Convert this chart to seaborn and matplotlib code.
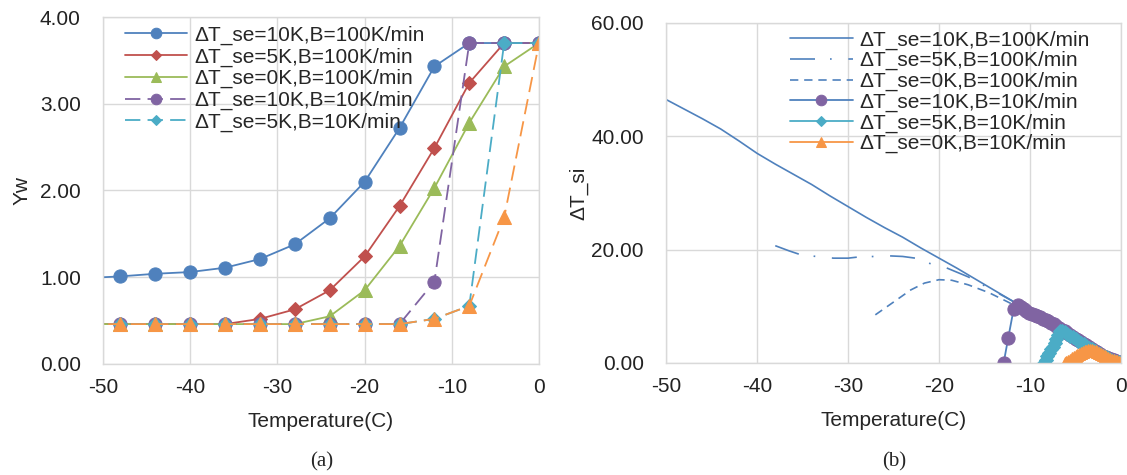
import numpy as np
import pandas as pd
import seaborn as sns
import matplotlib.pyplot as plt

# ---------------- (a) Yw vs temperature ----------------
temp_a = [-52, -48, -44, -40, -36, -32, -28, -24, -20, -16, -12, -8, -4, 0]
yw_10k_100 = [0.99, 1.01, 1.04, 1.06, 1.11, 1.21, 1.38, 1.68, 2.10, 2.72, 3.43, 3.70, 3.70, 3.70]
yw_5k_100 = [0.46, 0.46, 0.46, 0.46, 0.46, 0.52, 0.63, 0.85, 1.24, 1.82, 2.49, 3.24, 3.70, 3.70]
yw_0k_100 = [0.46, 0.46, 0.46, 0.46, 0.46, 0.46, 0.46, 0.55, 0.85, 1.36, 2.03, 2.78, 3.43, 3.70]
yw_10k_10 = [0.46, 0.46, 0.46, 0.46, 0.46, 0.46, 0.46, 0.46, 0.46, 0.46, 0.95, 3.70, 3.70, 3.70]
yw_5k_10 = [0.46, 0.46, 0.46, 0.46, 0.46, 0.46, 0.46, 0.46, 0.46, 0.46, 0.52, 0.67, 3.70, 3.70]
yw_0k_10 = [0.46, 0.46, 0.46, 0.46, 0.46, 0.46, 0.46, 0.46, 0.46, 0.46, 0.52, 0.67, 1.69, 3.70]

# ---------------- (b) dT_si vs temperature ----------------
temp_b_solid = [-50, -48, -46, -44, -42, -40, -38, -36, -34, -32, -30, -28, -26,
                -24, -22, -20, -18, -16, -14, -12, -10, -8, -6, -4, -2, 0]
dtsi_10k_100 = [46.5, 44.8, 43.1, 41.3, 39.2, 37.0, 35.1, 33.3, 31.5, 29.5, 27.6, 25.7, 23.9,
                22.2, 20.3, 18.5, 16.7, 14.8, 12.9, 11.0, 8.7, 7.0, 5.1, 3.0, 1.1, 0.1]

temp_b_dashdot = [-38, -36.5, -35.2, -33.5, -31.6, -30, -28.9, -27.1, -25.4, -24, -22.6,
                  -20.9, -19.2, -16.8, -13.6, -12, -10, -8, -6, -4, -2, 0]
dtsi_5k_100 = [20.7, 19.8, 19.1, 18.8, 18.5, 18.5, 18.7, 18.8, 18.9, 18.8, 18.5,
               17.5, 16.8, 15.2, 12.4, 11.0, 9.0, 7.0, 5.0, 3.0, 1.2, 0.1]

temp_b_dashed = [-27, -25.4, -23.1, -21.6, -20, -18.6, -16.8, -14.5, -12.6, -10, -8, -6, -4, -2, 0]
dtsi_0k_100 = [8.5, 10.3, 12.9, 14.1, 14.7, 14.6, 13.8, 12.4, 10.9, 8.8, 7.0, 5.0, 3.0, 1.2, 0.1]

temp_b_10k_10 = [-12.9, -12.4, -11.8, -11.3, -11.0, -10.7, -10.4, -10.1, -9.8, -9.5, -9.2,
                 -8.9, -8.6, -8.3, -8.0, -7.7, -7.4, -7.1, -6.8, -6.5, -6.2, -5.9, -5.6,
                 -5.3, -5.0, -4.7, -4.4, -4.1, -3.8, -3.5, -3.2, -2.9, -2.6, -2.3, -2.0,
                 -1.7, -1.4, -1.1, -0.8, -0.5, -0.2, 0.0]
dtsi_10k_10 = [0.0, 4.4, 9.5, 10.3, 9.9, 9.5, 9.1, 8.8, 8.6, 8.4, 8.3,
               8.1, 7.8, 7.6, 7.4, 7.1, 6.8, 6.5, 6.2, 5.9, 5.6, 5.3, 5.0,
               4.6, 4.3, 4.0, 3.7, 3.4, 3.1, 2.8, 2.5, 2.2, 1.9, 1.6, 1.3,
               1.1, 0.9, 0.7, 0.5, 0.3, 0.2, 0.1]

temp_b_5k_10 = [-8.5, -8.3, -8.1, -7.9, -7.7, -7.5, -7.3, -7.1, -6.9, -6.7, -6.5, -6.2,
                -5.9, -5.6, -5.3, -5.0, -4.7, -4.4, -4.1, -3.8, -3.5, -3.2, -2.9, -2.6,
                -2.3, -2.0, -1.7, -1.4, -1.1, -0.8, -0.5, -0.2, 0.0]
dtsi_5k_10 = [0.0, 0.6, 1.2, 1.8, 2.4, 2.9, 3.6, 4.3, 5.0, 5.6, 5.7, 5.4,
              5.1, 4.8, 4.5, 4.2, 3.9, 3.6, 3.3, 3.0, 2.7, 2.4, 2.1, 1.8,
              1.5, 1.2, 1.0, 0.8, 0.6, 0.4, 0.2, 0.1, 0.0]

temp_b_0k_10 = [-6.2, -6.0, -5.8, -5.6, -5.4, -5.2, -5.0, -4.8, -4.6, -4.4, -4.2, -4.0,
                -3.8, -3.6, -3.4, -3.2, -3.0, -2.8, -2.6, -2.4, -2.2, -2.0, -1.8, -1.6,
                -1.4, -1.2, -1.0, -0.8, -0.6, -0.4, -0.2, 0.0]
dtsi_0k_10 = [0.0, 0.2, 0.4, 0.6, 0.8, 1.0, 1.2, 1.4, 1.6, 1.8, 2.0, 2.1,
              2.2, 2.3, 2.3, 2.3, 2.2, 2.1, 2.0, 1.8, 1.6, 1.4, 1.2, 1.0,
              0.9, 0.7, 0.6, 0.5, 0.4, 0.3, 0.2, 0.1]

labels = ["\u0394T_se=10K,B=100K/min", "\u0394T_se=5K,B=100K/min", "\u0394T_se=0K,B=100K/min",
          "\u0394T_se=10K,B=10K/min", "\u0394T_se=5K,B=10K/min", "\u0394T_se=0K,B=10K/min"]

blue, red, green = "#4F81BD", "#C0504D", "#9BBB59"
purple, aqua, orange = "#8064A2", "#4BACC6", "#F79646"
grid_c = "#D9D9D9"

sns.set_style("white")
plt.rcParams["font.family"] = ["Liberation Sans", "DejaVu Sans"]
plt.rcParams["axes.unicode_minus"] = False
FS = 15

fig = plt.figure(figsize=(11.27, 4.75), dpi=100)
ax1 = fig.add_axes([0.0914, 0.2337, 0.3869, 0.7305])
ax2 = fig.add_axes([0.591, 0.2358, 0.4037, 0.7158])


def draw(ax, x, y, color, marker=None, ms=9, ls="-", mfc=None, lw=1.3):
    sns.lineplot(x=x, y=y, ax=ax, color=color, marker=marker, markersize=ms,
                 linestyle=ls, linewidth=lw, errorbar=None,
                 markerfacecolor=mfc or color, markeredgecolor=mfc or color)
    return ax.lines[-1]


# ---- panel (a)
dash_a = (0, (8.5, 4))
ha = [
    draw(ax1, temp_a, yw_10k_100, blue, "o", 9.5),
    draw(ax1, temp_a, yw_5k_100, red, "D", 7),
    draw(ax1, temp_a, yw_0k_100, green, "^", 9.5),
    draw(ax1, temp_a, yw_10k_10, purple, "o", 9.5, dash_a),
    draw(ax1, temp_a, yw_5k_10, aqua, "D", 7, dash_a),
    draw(ax1, temp_a, yw_0k_10, orange, "^", 9.5, dash_a),
]
ax1.set_xlim(-50, 0)
ax1.set_ylim(0, 4)
ax1.set_xticks(range(-50, 1, 10))
ax1.set_yticks(np.arange(0, 4.01, 1))
ax1.set_yticklabels([f"{v:.2f}" for v in np.arange(0, 4.01, 1)])
ax1.set_xlabel("Temperature(C)", fontsize=FS, labelpad=11)
ax1.set_ylabel("Yw", fontsize=FS, labelpad=6)
ax1.legend(ha[:5], labels[:5], loc="upper left", bbox_to_anchor=(0.05, 0.975),
           frameon=False, fontsize=FS, handlelength=3.0, handletextpad=0.35,
           labelspacing=0.12, borderpad=0, borderaxespad=0, markerscale=0.8)

# ---- panel (b)
hb = [
    draw(ax2, temp_b_solid, dtsi_10k_100, blue, lw=1.2),
    draw(ax2, temp_b_dashdot, dtsi_5k_100, blue, ls=(0, (15, 9, 1, 10)), lw=1.2),
    draw(ax2, temp_b_dashed, dtsi_0k_100, blue, ls=(0, (5, 3.5)), lw=1.2),
    draw(ax2, temp_b_10k_10, dtsi_10k_10, blue, "o", 9.5, mfc=purple),
    draw(ax2, temp_b_5k_10, dtsi_5k_10, aqua, "D", 7),
    draw(ax2, temp_b_0k_10, dtsi_0k_10, orange, "^", 8.5),
]
ax2.set_xlim(-50, 0)
ax2.set_ylim(0, 60)
ax2.set_xticks(range(-50, 1, 10))
ax2.set_yticks(range(0, 61, 20))
ax2.set_yticklabels([f"{v:.2f}" for v in range(0, 61, 20)])
ax2.set_xlabel("Temperature(C)", fontsize=FS, labelpad=11)
ax2.set_ylabel("\u0394T_si", fontsize=FS, labelpad=2)
ax2.legend(hb, labels, loc="upper left", bbox_to_anchor=(0.2725, 0.978),
           frameon=False, fontsize=FS, handlelength=3.0, handletextpad=0.35,
           labelspacing=0.07, borderpad=0, borderaxespad=0, markerscale=0.8)

for ax in (ax1, ax2):
    ax.grid(True, color=grid_c, linewidth=1.0)
    ax.set_axisbelow(True)
    for s in ax.spines.values():
        s.set_color(grid_c)
        s.set_linewidth(1.0)
    ax.tick_params(axis="both", length=0, labelsize=FS, colors="#222222")
    ax.tick_params(axis="y", pad=16)
    ax.tick_params(axis="x", pad=10)

fig.text(0.2855, 0.028, "(a)", ha="center", va="center", fontsize=15,
         family=["Liberation Serif", "DejaVu Serif"])
fig.text(0.793, 0.028, "(b)", ha="center", va="center", fontsize=15,
         family=["Liberation Serif", "DejaVu Serif"])

fig.savefig("out.png", dpi=100)
